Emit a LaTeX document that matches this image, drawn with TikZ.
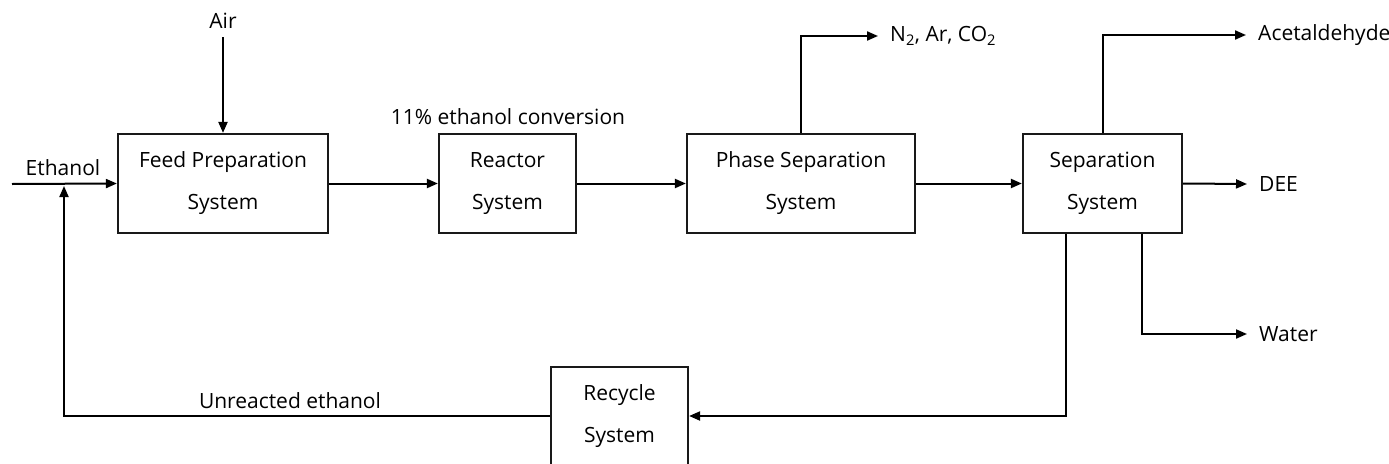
\documentclass[tikz,border=0pt]{standalone}
\usepackage{fontspec}
\setmainfont{Open Sans}
\usetikzlibrary{arrows.meta,calc}
\begin{document}
\begin{tikzpicture}[x=1pt,y=-1pt,
  font=\fontsize{21}{42}\selectfont,
  every node/.style={text=black},
  unit/.style={draw=black!90,line width=2.2pt,rectangle,align=center,minimum height=99pt,inner sep=0pt},
  flow/.style={draw=black,line width=2pt,-{Triangle[length=11pt,width=9pt]}},
  lbl/.style={inner sep=0pt},
  outlbl/.style={anchor=west,inner xsep=12pt,inner ysep=0pt}]
\useasboundingbox (0,0) rectangle (1389,463);
\clip (0,0) rectangle (1389,463);
% units
\node[unit,minimum width=210pt] (feed) at (223,183.5) {Feed Preparation\\System};
\node[unit,minimum width=137pt] (reac) at (507.5,183.5) {Reactor\\System};
\node[unit,minimum width=228pt] (phase) at (801,183.5) {Phase Separation\\System};
\node[unit,minimum width=159pt] (sep) at (1102.5,183.5) {Separation\\System};
\node[unit,minimum width=137pt,minimum height=98pt] (rec) at (619.5,416) {Recycle\\System};
% labels
\node[lbl] (air) at (223,21) {Air};
\node[lbl] (eth) at (63,168) {Ethanol};
\node[lbl] (conv) at (508,117) {11\% ethanol conversion};
\node[lbl] (unr) at (290,401) {Unreacted ethanol};
\node[outlbl] (n2) at (878,36) {N\textsubscript{2}, Ar, CO\textsubscript{2}};
\node[outlbl] (acet) at (1246,35) {Acetaldehyde};
\node[outlbl] (dee) at (1247,184) {DEE};
\node[outlbl] (water) at (1247,334) {Water};
\coordinate (ein) at (12,184);
% connectors
\draw[flow] (223,37) -- (feed.north);
\draw[flow] (ein) -- (feed.west);
\draw[flow] (feed.east) -- (reac.west);
\draw[flow] (reac.east) -- (phase.west);
\draw[flow] (phase.east) -- (sep.west);
\draw[flow] (phase.north) |- (n2.west);
\draw[flow] (sep.north) |- (acet.west);
\draw[flow] (sep.east) -- (dee.west);
\draw[flow] ($(sep.south)+(39.5,0)$) |- (water.west);
\draw[flow] ($(sep.south)+(-36.5,0)$) |- (rec.east);
\draw[flow] (rec.west) -| (64,186);
\end{tikzpicture}
\end{document}
